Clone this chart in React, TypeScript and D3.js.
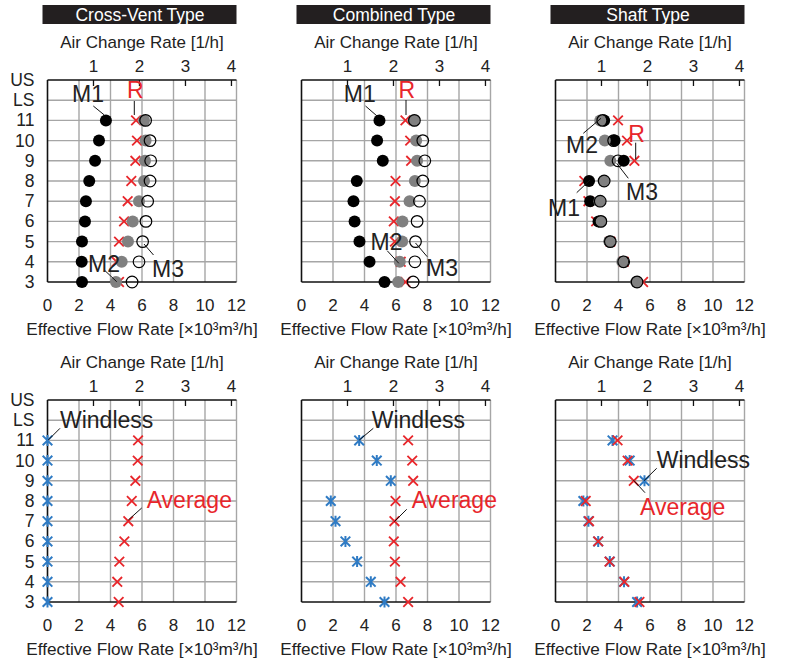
import React from "react";
import * as d3 from "d3";

const levels = ["US", "LS", "11", "10", "9", "8", "7", "6", "5", "4", "3"];
const floors = ["11", "10", "9", "8", "7", "6", "5", "4", "3"];
const flowTicks = [0, 2, 4, 6, 8, 10, 12];
const achTicks = [1, 2, 3, 4];
const achFactor = 2.92; // flow [10^3 m3/h] per 1 ACH
const titles = ["Cross-Vent Type", "Combined Type", "Shaft Type"];

const crossM1 = [3.71, 3.27, 3.02, 2.65, 2.44, 2.38, 2.19, 2.17, 2.19];
const crossM2 = [6.13, 6.23, 6.19, 6.13, 5.81, 5.41, 5.11, 4.71, 4.35];
const crossM3 = [6.23, 6.51, 6.55, 6.51, 6.36, 6.25, 6.04, 5.81, 5.37];
const crossR = [5.62, 5.68, 5.58, 5.32, 5.09, 4.86, 4.54, 4.39, 4.54];
const combM1 = [4.95, 4.8, 5.16, 3.51, 3.3, 3.37, 3.68, 4.32, 5.27];
const combM2 = [7.13, 7.28, 7.34, 7.2, 6.86, 6.41, 6.39, 6.24, 6.14];
const combM3 = [7.17, 7.7, 7.83, 7.7, 7.49, 7.34, 7.24, 7.2, 7.09];
const combR = [6.6, 6.9, 6.96, 5.97, 5.93, 5.86, 5.93, 6.3, 6.6];
const shaftM1 = [3.09, 3.75, 4.33, 2.13, 2.2, 2.73, 3.43, 4.29, 5.14];
const shaftM2 = [2.84, 3.13, 3.48, 3.05, 2.79, 2.9, 3.43, 4.24, 5.14];
const shaftM3 = [3.0, 3.69, 3.97, 3.09, 2.84, 2.88, 3.48, 4.33, 5.18];
const shaftR = [3.97, 4.54, 5.01, 1.83, 2.09, 2.58, 3.48, 4.33, 5.56];

const crossWindless = [0, 0, 0, 0, 0, 0, 0, 0, 0];
const crossAvg = [5.75, 5.73, 5.58, 5.35, 5.13, 4.88, 4.56, 4.43, 4.52];
const combWindless = [3.66, 4.78, 5.67, 1.86, 2.16, 2.79, 3.53, 4.4, 5.27];
const combAvg = [6.77, 7.03, 7.09, 5.97, 5.9, 5.86, 5.93, 6.29, 6.77];
const shaftWindless = [3.62, 4.71, 5.65, 1.77, 2.09, 2.71, 3.45, 4.35, 5.18];
const shaftAvg = [3.94, 4.58, 4.97, 1.92, 2.13, 2.71, 3.43, 4.37, 5.33];

const RED = "#e8262b";
const BLUE = "#2f7bc4";
const GRAY = "#808080";
const GRID = "#a6a6a6";
const FONT = "'Liberation Sans', Arial, Helvetica, sans-serif";

const panelX = [47.5, 301.5, 555.5];
const plotW = 189;
const plotH = 202;
const rowTops = [80, 400];

type Ann = { text: string; color: string; tx: number; ty: number; l: [number, number, number, number] };

const topAnns: Ann[][] = [
  [
    { text: "M1", color: "#222", tx: 24.5, ty: 21.5, l: [45.8, 26, 56.8, 35] },
    { text: "R", color: RED, tx: 79.5, ty: 18.3, l: [86.8, 21, 86.8, 35] },
    { text: "M2", color: "#222", tx: 40.5, ty: 191.5, l: [57.5, 190.7, 69.2, 201.7] },
    { text: "M3", color: "#222", tx: 104.5, ty: 196.5, l: [96.5, 164, 106, 175] },
  ],
  [
    { text: "M1", color: "#222", tx: 42.3, ty: 21.7, l: [64, 26, 76.3, 36.7] },
    { text: "R", color: RED, tx: 97, ty: 18, l: [104.5, 20, 104.5, 35] },
    { text: "M2", color: "#222", tx: 69, ty: 170, l: [85.7, 170.7, 97.3, 183.3] },
    { text: "M3", color: "#222", tx: 124.5, ty: 196, l: [114, 163, 125.7, 176.7] },
  ],
  [
    { text: "M2", color: "#222", tx: 10.5, ty: 73, l: [45.5, 38.3, 27.8, 53.3] },
    { text: "R", color: RED, tx: 72.8, ty: 61.7, l: [80.2, 62.7, 80.2, 79.3] },
    { text: "M3", color: "#222", tx: 70.5, ty: 120, l: [61.2, 83.3, 72.8, 98.3] },
    { text: "M1", color: "#222", tx: -7.5, ty: 136, l: [34.5, 100, 21.2, 112.7] },
  ],
];

const botAnns: Ann[][] = [
  [
    { text: "Windless", color: "#222", tx: 12.5, ty: 28, l: [0.8, 40, 12.5, 28.3] },
    { text: "Average", color: RED, tx: 99.2, ty: 108, l: [80.8, 120, 94.2, 108] },
  ],
  [
    { text: "Windless", color: "#222", tx: 70.2, ty: 28, l: [57.8, 40, 71.8, 28.3] },
    { text: "Average", color: RED, tx: 110.2, ty: 108, l: [92.8, 121.7, 105.2, 109.3] },
  ],
  [
    { text: "Windless", color: "#222", tx: 101.2, ty: 68.3, l: [88.5, 80.7, 101.2, 68.3] },
    { text: "Average", color: RED, tx: 84.5, ty: 115, l: [77.8, 80, 89.5, 92.7] },
  ],
];

const topSeries = [
  { m1: crossM1, m2: crossM2, m3: crossM3, r: crossR },
  { m1: combM1, m2: combM2, m3: combM3, r: combR },
  { m1: shaftM1, m2: shaftM2, m3: shaftM3, r: shaftR },
];
const botSeries = [
  { w: crossWindless, a: crossAvg },
  { w: combWindless, a: combAvg },
  { w: shaftWindless, a: shaftAvg },
];

function Cross({ x, y, color, s = 4.8 }: { x: number; y: number; color: string; s?: number }) {
  return (
    <path d={`M${x - s},${y - s}L${x + s},${y + s}M${x - s},${y + s}L${x + s},${y - s}`} stroke={color} strokeWidth={1.8} fill="none" />
  );
}
function Star({ x, y, color, s = 4.8 }: { x: number; y: number; color: string; s?: number }) {
  return (
    <path
      d={`M${x - s},${y - s}L${x + s},${y + s}M${x - s},${y + s}L${x + s},${y - s}M${x},${y - s * 1.15}L${x},${y + s * 1.15}`}
      stroke={color}
      strokeWidth={2}
      fill="none"
    />
  );
}

function Frame({ x0, top, showY, children, anns }: { x0: number; top: number; showY: boolean; children: React.ReactNode; anns: Ann[] }) {
  const xs = d3.scaleLinear().domain([0, 12]).range([x0, x0 + plotW]);
  const xa = d3.scaleLinear().domain([0, 12 / achFactor]).range([x0, x0 + plotW]);
  const ys = d3.scalePoint<string>().domain(levels).range([top, top + plotH]);
  const cx = x0 + plotW / 2;
  return (
    <g>
      {levels.slice(1, -1).map((l) => (
        <line key={l} x1={x0} x2={x0 + plotW} y1={ys(l)} y2={ys(l)} stroke={GRID} strokeWidth={1.4} />
      ))}
      {flowTicks.slice(1).map((t) => (
        <line key={t} x1={xs(t)} x2={xs(t)} y1={top} y2={top + plotH} stroke={GRID} strokeWidth={1.4} />
      ))}
      <line x1={x0} x2={x0 + plotW} y1={top} y2={top} stroke="#111" strokeWidth={1.6} />
      <line x1={x0} x2={x0 + plotW} y1={top + plotH} y2={top + plotH} stroke="#111" strokeWidth={1.3} />
      <line x1={x0} x2={x0} y1={top} y2={top + plotH} stroke="#111" strokeWidth={1.6} />
      {achTicks.map((t) => (
        <g key={t}>
          <line x1={xa(t)} x2={xa(t)} y1={top} y2={top + 6} stroke="#111" strokeWidth={1.3} />
          <text x={xa(t)} y={top - 8} textAnchor="middle" fontSize={17} fill="#222">
            {t}
          </text>
        </g>
      ))}
      <text x={cx} y={top - 32} textAnchor="middle" fontSize={17} fill="#222">
        Air Change Rate [1/h]
      </text>
      {flowTicks.map((t) => (
        <text key={t} x={xs(t)} y={top + plotH + 29} textAnchor="middle" fontSize={17} fill="#222">
          {t}
        </text>
      ))}
      <text x={cx} y={top + plotH + 53} textAnchor="middle" fontSize={17.2} fill="#222">
        Effective Flow Rate [×10³m³/h]
      </text>
      {showY &&
        levels.map((l) => (
          <text key={l} x={x0 - 13} y={(ys(l) as number) + 6} textAnchor="end" fontSize={17.5} fill="#222">
            {l}
          </text>
        ))}
      {children}
      {anns.map((a, i) => (
        <g key={i}>
          <line x1={x0 + a.l[0]} y1={top + a.l[1]} x2={x0 + a.l[2]} y2={top + a.l[3]} stroke="#111" strokeWidth={1} />
          <text x={x0 + a.tx} y={top + a.ty} fontSize={23} fill={a.color}>
            {a.text}
          </text>
        </g>
      ))}
    </g>
  );
}

export default function App() {
  return (
    <svg width={785} height={662} style={{ display: "block", position: "absolute", left: 0, top: 0 }} fontFamily={FONT}>
      <rect width={785} height={662} fill="#fff" />
      {titles.map((t, i) => (
        <g key={t}>
          <rect x={panelX[i] - 5} y={5} width={plotW + 5} height={19} fill="#231f20" />
          <text x={panelX[i] + plotW / 2 - 2} y={20.8} textAnchor="middle" fontSize={17.5} fill="#fff">
            {t}
          </text>
        </g>
      ))}
      {topSeries.map((s, i) => {
        const x0 = panelX[i];
        const top = rowTops[0];
        const xs = d3.scaleLinear().domain([0, 12]).range([x0, x0 + plotW]);
        const ys = d3.scalePoint<string>().domain(levels).range([top, top + plotH]);
        return (
          <Frame key={i} x0={x0} top={top} showY={i === 0} anns={topAnns[i]}>
            {floors.map((f, j) => (
              <Cross key={"d" + f} x={xs(s.r[j])} y={ys(f) as number} color={RED} />
            ))}
            {floors.map((f, j) => (
              <circle key={"a" + f} cx={xs(s.m1[j])} cy={ys(f)} r={6} fill="#000" />
            ))}
            {floors.map((f, j) => (
              <circle key={"b" + f} cx={xs(s.m2[j])} cy={ys(f)} r={6} fill={GRAY} />
            ))}
            {floors.map((f, j) => (
              <circle key={"c" + f} cx={xs(s.m3[j])} cy={ys(f)} r={5.8} fill="none" stroke="#000" strokeWidth={1.2} />
            ))}
          </Frame>
        );
      })}
      {botSeries.map((s, i) => {
        const x0 = panelX[i];
        const top = rowTops[1];
        const xs = d3.scaleLinear().domain([0, 12]).range([x0, x0 + plotW]);
        const ys = d3.scalePoint<string>().domain(levels).range([top, top + plotH]);
        return (
          <Frame key={i} x0={x0} top={top} showY={i === 0} anns={botAnns[i]}>
            {floors.map((f, j) => (
              <Star key={"w" + f} x={xs(s.w[j])} y={ys(f) as number} color={BLUE} />
            ))}
            {floors.map((f, j) => (
              <Cross key={"v" + f} x={xs(s.a[j])} y={ys(f) as number} color={RED} />
            ))}
          </Frame>
        );
      })}
    </svg>
  );
}
